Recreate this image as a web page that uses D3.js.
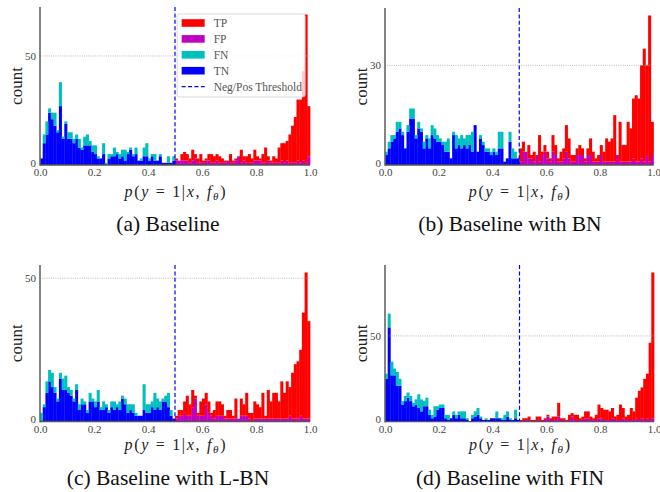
<!DOCTYPE html>
<html>
<head>
<meta charset="utf-8">
<script src="https://cdn.jsdelivr.net/npm/d3@7"></script>
<style>
  body { margin: 0; background: #fff; }
  svg { display: block; }
  text { white-space: pre; }
</style>
</head>
<body>
<svg id="fig" width="660" height="492"></svg>
<script>
// Histogram counts, 100 bins of width 0.01 over p(y=1|x, f_theta) in [0, 1].
// Negative predictions (bins 0-49): TN and FN. Positive predictions (bins 50-99): FP and TP.

// (a) Baseline
const baselineTN = [3,10,14,24,21,18,15,27,12,19, 12,12,10,12,8,7,9,9,9,6, 5,3,3,5,0,3,4,4,5,3, 4,2,5,7,4,5,2,2,4,4, 2,4,2,2,4,1,1,1,1,2];
const baselineFN = [0,4,6,2,3,6,1,11,1,1, 3,3,2,2,4,1,4,5,2,3, 4,1,0,5,1,2,1,4,1,2, 3,5,1,1,1,3,0,1,4,6, 1,1,3,0,1,0,0,3,0,2];
const baselineFP = [2,2,2,2,2,1,2,3,1,1, 1,2,2,1,1,2,1,1,1,2, 1,1,2,4,1,2,1,1,1,2, 2,2,1,1,2,1,1,1,1,2, 1,2,1,1,1,2,1,2,1,4];
const baselineTP = [1,0,3,4,3,2,5,2,2,4, 1,1,3,4,3,3,3,2,1,0, 4,1,1,0,6,2,3,4,2,5, 2,1,4,7,2,1,3,2,7,8, 9,9,13,17,21,28,29,41,68,23];

// (b) Baseline with BN
const bnTN = [3,5,7,8,10,11,9,5,10,14, 14,8,11,10,5,8,5,9,8,7, 7,6,4,4,2,9,5,6,5,6, 5,6,4,12,4,8,6,4,4,3, 4,3,5,5,1,2,7,2,2,2];
const bnFN = [1,2,2,1,3,2,1,0,2,3, 3,1,2,1,2,1,3,3,3,2, 1,1,3,4,0,1,4,2,4,2, 4,3,6,0,0,1,1,1,1,1, 1,1,5,5,0,0,3,3,2,0];
const bnFP = [1,4,4,2,2,1,3,1,3,4, 2,1,4,3,1,1,2,4,2,1, 1,3,3,3,1,3,3,1,1,1, 3,1,1,1,1,1,3,1,1,1, 1,1,2,1,1,2,1,3,1,3];
const bnTP = [4,3,0,4,1,3,0,8,1,2, 2,1,5,3,1,3,3,8,6,2, 2,2,3,2,1,2,5,3,1,2, 3,3,7,6,7,14,0,12,5,5, 12,10,18,20,19,28,34,27,44,10];

// (c) Baseline with L-BN
const lbnTN = [0,5,10,14,12,10,7,15,11,11, 10,9,7,11,4,6,6,3,7,7, 5,7,4,4,5,3,5,4,5,4, 8,6,3,4,3,2,2,2,4,3, 3,5,4,5,4,7,7,5,2,1];
const lbnFN = [3,1,4,4,5,2,1,2,4,5, 2,2,1,2,2,2,1,1,3,1, 2,4,1,3,1,1,2,3,1,3, 1,2,3,2,3,1,0,0,9,3, 3,2,6,3,3,1,2,5,2,0];
const lbnFP = [1,2,2,3,2,2,5,8,2,2, 2,6,3,2,1,2,2,2,1,1, 1,1,1,1,2,2,2,1,0,1, 1,1,1,1,1,1,1,1,1,1, 1,1,2,1,1,1,2,1,1,1];
const lbnTP = [1,2,2,4,7,4,6,1,1,5, 6,4,4,1,3,5,5,4,1,3, 3,1,7,0,6,4,8,2,3,6, 5,4,9,1,10,6,9,9,6,13, 9,13,10,16,19,20,23,37,51,34];

// (d) Baseline with FIN
const finTN = [25,55,27,27,21,21,10,12,14,12, 9,10,8,6,9,9,4,2,3,7, 8,8,2,1,2,4,2,4,2,2, 1,0,2,3,4,2,1,1,1,2, 2,2,2,1,1,3,1,1,2,1];
const finFN = [3,8,8,4,8,4,2,3,3,3, 2,3,8,7,3,5,3,2,6,2, 2,2,2,3,0,2,2,2,4,4, 1,0,2,3,4,1,0,1,0,0, 0,4,0,1,3,3,1,0,5,0];
const finFP = [0,1,1,1,0,0,1,1,0,1, 3,1,1,1,3,1,1,0,1,3, 1,1,1,1,2,2,1,1,1,2, 2,1,1,1,2,1,1,1,2,1, 1,1,1,2,1,2,1,2,1,2];
const finTP = [1,1,1,2,1,1,2,2,1,1, 1,1,2,2,8,1,1,1,3,2, 3,3,1,2,4,4,2,1,3,8, 6,6,6,5,6,2,3,9,6,2, 3,7,5,12,17,18,24,26,45,85];

const xTicks = [0, 0.2, 0.4, 0.6, 0.8, 1.0];
const threshold = 0.5;
const binWidth = 0.01;

const seriesKeys = ['tn', 'fn', 'fp', 'tp'];
const seriesColor = { tp: '#ff0000', fp: '#bf00bf', fn: '#00bfbf', tn: '#0000ff' };
const legendItems = [
  { key: 'tp', label: 'TP' },
  { key: 'fp', label: 'FP' },
  { key: 'fn', label: 'FN' },
  { key: 'tn', label: 'TN' }
];

const serif = '"Liberation Serif", "DejaVu Serif", "Times New Roman", serif';

const panels = [
  { caption: '(a) Baseline', tn: baselineTN, fn: baselineFN, fp: baselineFP, tp: baselineTP, yTick: 50,
    left: 40, right: 310, top: 7, bottom: 165, labelY: 196.5, captionX: 168, captionY: 231, legend: true },
  { caption: '(b) Baseline with BN', tn: bnTN, fn: bnFN, fp: bnFP, tp: bnTP, yTick: 30,
    left: 385, right: 653.5, top: 8, bottom: 165, labelY: 196.5, captionX: 510, captionY: 231, legend: false },
  { caption: '(c) Baseline with L-BN', tn: lbnTN, fn: lbnFN, fp: lbnFP, tp: lbnTP, yTick: 50,
    left: 40, right: 310, top: 265, bottom: 421.5, labelY: 450, captionX: 168, captionY: 485, legend: false },
  { caption: '(d) Baseline with FIN', tn: finTN, fn: finFN, fp: finFP, tp: finTP, yTick: 50,
    left: 385, right: 654, top: 265, bottom: 421.7, labelY: 450, captionX: 510, captionY: 485, legend: false }
];

const svg = d3.select('#fig');

panels.forEach(p => {
  // One row per bin; negative bins carry TN/FN, positive bins carry FP/TP.
  const rows = d3.range(100).map(i => {
    const neg = i < 50;
    return {
      x0: i * binWidth,
      x1: (i + 1) * binWidth,
      tn: neg ? p.tn[i] : 0,
      fn: neg ? p.fn[i] : 0,
      fp: neg ? 0 : p.fp[i - 50],
      tp: neg ? 0 : p.tp[i - 50]
    };
  });
  const stacked = d3.stack().keys(seriesKeys)(rows);
  const maxCount = d3.max(rows, r => r.tn + r.fn + r.fp + r.tp);

  const x = d3.scaleLinear().domain([0, 1]).range([p.left, p.right]);
  const y = d3.scaleLinear().domain([0, maxCount * 1.05]).range([p.bottom, p.top]);

  const g = svg.append('g');

  // stacked histogram bars
  stacked.forEach(layer => {
    g.append('g')
      .attr('fill', seriesColor[layer.key])
      .selectAll('rect')
      .data(layer.filter(d => d[1] > d[0]))
      .join('rect')
      .attr('x', d => x(d.data.x0))
      .attr('width', d => x(d.data.x1) - x(d.data.x0) + 0.35)
      .attr('y', d => y(d[1]))
      .attr('height', d => y(d[0]) - y(d[1]));
  });

  // dotted gridline at the labelled y tick
  g.append('line')
    .attr('x1', p.left).attr('x2', p.right)
    .attr('y1', y(p.yTick)).attr('y2', y(p.yTick))
    .attr('stroke', '#a8a8a8').attr('stroke-width', 0.8)
    .attr('stroke-dasharray', '1,1.2');

  // decision threshold
  g.append('line')
    .attr('x1', x(threshold)).attr('x2', x(threshold))
    .attr('y1', p.top).attr('y2', p.bottom)
    .attr('stroke', '#0000ff').attr('stroke-width', 1.2)
    .attr('stroke-dasharray', '4,2.4');

  // spines
  g.append('line')
    .attr('x1', p.left).attr('x2', p.left)
    .attr('y1', p.top).attr('y2', p.bottom + 0.8)
    .attr('stroke', '#666').attr('stroke-width', 1.6);
  g.append('line')
    .attr('x1', p.left).attr('x2', p.right)
    .attr('y1', p.bottom).attr('y2', p.bottom)
    .attr('stroke', '#555').attr('stroke-width', 1.3);

  // tick labels
  const xAxis = d3.axisBottom(x).tickValues(xTicks).tickFormat(d3.format('.1f')).tickSize(0).tickPadding(3.5);
  const xg = g.append('g').attr('transform', `translate(0,${p.bottom})`).call(xAxis);
  xg.select('.domain').remove();
  xg.selectAll('text')
    .attr('font-family', serif).attr('font-size', 11).attr('fill', '#444');

  const yAxis = d3.axisLeft(y).tickValues([0, p.yTick]).tickFormat(d3.format('d')).tickSize(0).tickPadding(4);
  const yg = g.append('g').attr('transform', `translate(${p.left},0)`).call(yAxis);
  yg.select('.domain').remove();
  yg.selectAll('text')
    .attr('font-family', serif).attr('font-size', 11).attr('fill', '#444')
    .attr('dy', d => d === 0 ? '0.1em' : '0.32em');

  // y label
  g.append('text')
    .attr('transform', `translate(${p.left - 18.5},${(p.top + p.bottom) / 2}) rotate(-90)`)
    .attr('text-anchor', 'middle')
    .attr('font-family', serif).attr('font-size', 17).attr('fill', '#222')
    .text('count');

  // x label: p(y = 1|x, f_θ)
  const xl = g.append('text')
    .attr('x', x(0.5)).attr('y', p.labelY)
    .attr('text-anchor', 'middle')
    .attr('font-family', serif).attr('font-size', 16).attr('fill', '#222')
    .attr('textLength', 101).attr('lengthAdjust', 'spacing');
  xl.append('tspan').attr('font-style', 'italic').text('p');
  xl.append('tspan').text('(');
  xl.append('tspan').attr('font-style', 'italic').text('y');
  xl.append('tspan').text(' = 1|');
  xl.append('tspan').attr('font-style', 'italic').text('x');
  xl.append('tspan').text(', ');
  xl.append('tspan').attr('font-style', 'italic').text('f');
  xl.append('tspan').attr('font-style', 'italic').attr('font-size', 11).attr('dy', 3).text('θ');
  xl.append('tspan').attr('dy', -3).text(')');

  // caption
  g.append('text')
    .attr('x', p.captionX).attr('y', p.captionY)
    .attr('text-anchor', 'middle')
    .attr('font-family', serif).attr('font-size', 21.5).attr('fill', '#111')
    .text(p.caption);

  if (p.legend) {
    const lg = g.append('g');
    const bx = x(0.508), by = 14, bw = 128, bh = 83;
    lg.append('rect')
      .attr('x', bx).attr('y', by).attr('width', bw).attr('height', bh)
      .attr('rx', 2.5)
      .attr('fill', '#fff').attr('fill-opacity', 0.8)
      .attr('stroke', '#cfcfcf').attr('stroke-width', 0.8);
    const rowY = i => 23 + i * 15.9;
    legendItems.forEach((it, i) => {
      lg.append('rect')
        .attr('x', bx + 4.5).attr('y', rowY(i) - 3.8)
        .attr('width', 23).attr('height', 7.6)
        .attr('fill', seriesColor[it.key]);
      lg.append('text')
        .attr('x', bx + 36.5).attr('y', rowY(i) + 4)
        .attr('font-family', serif).attr('font-size', 11.5).attr('fill', '#555')
        .text(it.label);
    });
    lg.append('line')
      .attr('x1', bx + 4.5).attr('x2', bx + 27.5)
      .attr('y1', rowY(4)).attr('y2', rowY(4))
      .attr('stroke', '#0000ff').attr('stroke-width', 1.2)
      .attr('stroke-dasharray', '4,2.4');
    lg.append('text')
      .attr('x', bx + 36.5).attr('y', rowY(4) + 4)
      .attr('font-family', serif).attr('font-size', 11.5).attr('fill', '#555')
      .text('Neg/Pos Threshold');
  }
});
</script>
</body>
</html>
